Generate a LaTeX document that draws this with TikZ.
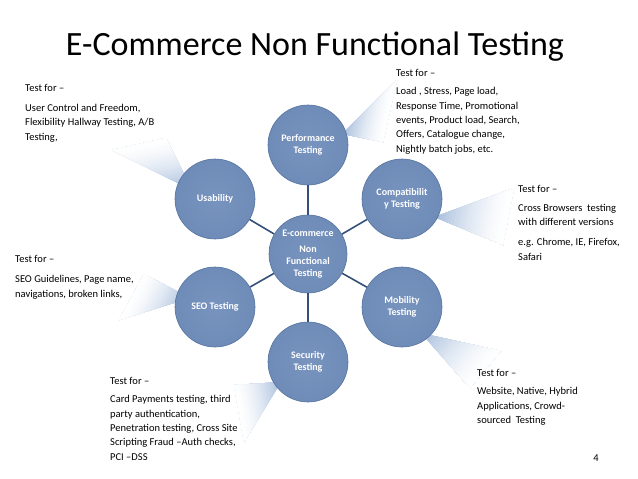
\documentclass[tikz,border=0pt]{standalone}
\usepackage{fontspec}
\setmainfont{Carlito}
\usetikzlibrary{calc}
\definecolor{bubfill}{HTML}{6F8CB8}
\definecolor{bubedge}{HTML}{5674A0}
\definecolor{bubin}{HTML}{7793BE}
\definecolor{linkcol}{HTML}{34507A}
\definecolor{wedgecol}{HTML}{A6BDDC}
\tikzset{
  bubble/.style={circle, minimum size=80pt, inner sep=0pt, draw=bubedge, line width=0.6pt,
    inner color=bubin, outer color=bubfill, text=white, align=center,
    font=\bfseries\fontsize{10}{12}\selectfont},
  hub/.style={bubble, minimum size=78pt},
  link/.style={draw=linkcol, line width=1.6pt},
  note/.style={anchor=base west, inner sep=0pt, align=left, text=black,
    font=\fontsize{10.5}{14.3}\selectfont},
}
% fan-shaped callout fading from its tip (#1) to its far side (#2)-(#3)
\newcommand\calloutfan[3]{%
  \foreach \i in {0,...,24}{%
    \pgfmathsetmacro\tt{\i/25}%
    \pgfmathsetmacro\pp{100*(1-\tt)^1.6}%
    \fill[wedgecol!\pp!white] ($(#1)!\tt!(#2)$) -- (#2) -- (#3) -- ($(#1)!\tt!(#3)$) -- cycle;
  }%
}
\begin{document}
\begin{tikzpicture}[x=1pt, y=-1pt]
\useasboundingbox (0,0) rectangle (638,479);
\fill[white] (0,0) rectangle (638,479);

% title
\node[anchor=base, inner sep=0pt, font=\fontsize{34}{40}\selectfont] (title) at (315,55) {E-Commerce Non Functional Testing};

% callout fans
\coordinate (tu) at (192,190); \coordinate (au) at (112,150); \coordinate (bu) at (166,138);
\coordinate (tp) at (342,134); \coordinate (ap) at (397,80);  \coordinate (bp) at (383,142);
\coordinate (tc) at (434,217); \coordinate (ac) at (514,188); \coordinate (bc) at (503,245);
\coordinate (ts) at (190,298); \coordinate (as) at (144,274); \coordinate (bs) at (119,320);
\coordinate (tm) at (421,333); \coordinate (am) at (501,351); \coordinate (bm) at (470,388);
\coordinate (tx) at (281,382); \coordinate (ax) at (234,385); \coordinate (bx) at (244,442);
\calloutfan{tu}{au}{bu}
\calloutfan{tp}{ap}{bp}
\calloutfan{tc}{ac}{bc}
\calloutfan{ts}{as}{bs}
\calloutfan{tm}{am}{bm}
\calloutfan{tx}{ax}{bx}

% bubbles
\node[hub] (hub) at (308,254) {E-commerce\\[4pt]Non\\Functional\\Testing};
\node[bubble] (perf) at (308,145) {Performance\\Testing};
\node[bubble] (usab) at (215,199) {Usability};
\node[bubble] (comp) at (402,199) {Compatibilit\\y Testing};
\node[bubble] (seo)  at (215,307) {SEO Testing};
\node[bubble] (mob)  at (402,307) {Mobility\\Testing};
\node[bubble] (sec)  at (308,362) {Security\\Testing};

% links
\foreach \n in {perf,usab,comp,seo,mob,sec}{
  \draw[link] (hub) -- (\n);
}

% notes (anchored at the baseline of their last line)
\node[note] (nusab) at (25,140) {Test for –\\[6pt]User Control and Freedom,\\Flexibility Hallway Testing, A/B\\Testing,};
\node[note] (nperf) at (396,152) {Test for –\\[4.5pt]Load , Stress, Page load,\\Response Time, Promotional\\events, Product load, Search,\\Offers, Catalogue change,\\Nightly batch jobs, etc.};
\node[note] (ncomp) at (518,260) {Test for –\\[5pt]Cross Browsers\ \ testing\\with different versions\\[5.5pt]e.g. Chrome, IE, Firefox,\\Safari};
\node[note] (nseo) at (15,297) {Test for –\\[5.5pt]SEO Guidelines, Page name,\\navigations, broken links,};
\node[note] (nsec) at (110,460) {Test for –\\[4.5pt]Card Payments testing, third\\party authentication,\\Penetration testing, Cross Site\\Scripting Fraud –Auth checks,\\PCI –DSS};
\node[note] (nmob) at (477,423.5) {Test for –\\[4.5pt]Website, Native, Hybrid\\Applications, Crowd-\\sourced\ \ Testing};

\node[anchor=base, inner sep=0pt, font=\fontsize{10.5}{12}\selectfont] (pnum) at (596,461) {4};
\end{tikzpicture}
\end{document}
